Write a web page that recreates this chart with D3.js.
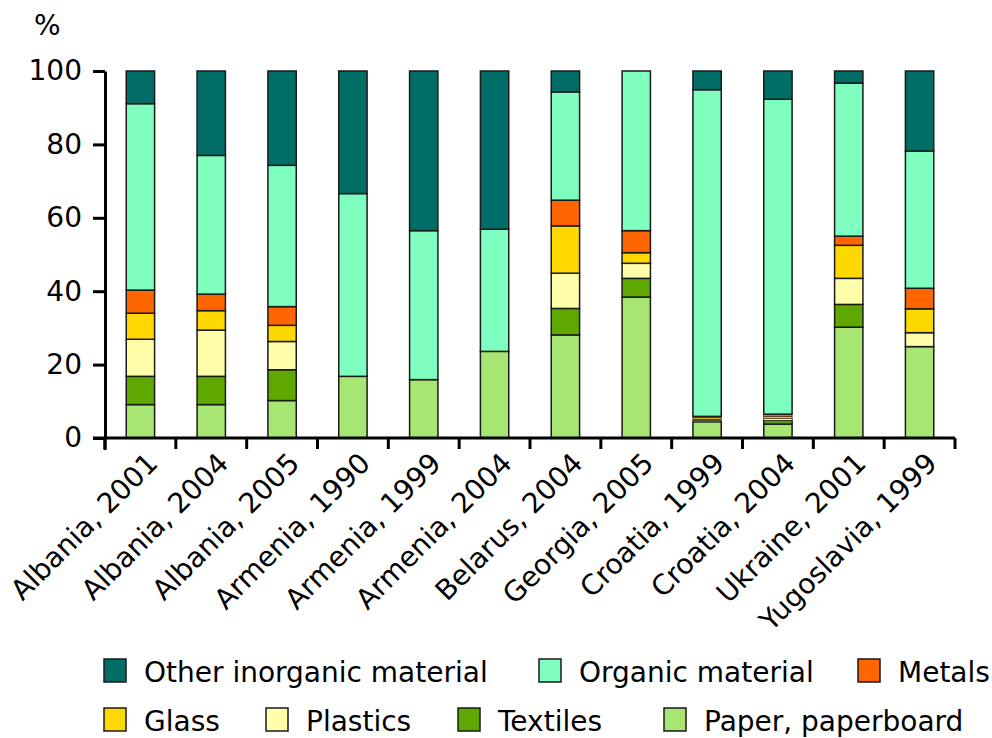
<!DOCTYPE html>
<html>
<head>
<meta charset="utf-8">
<script src="https://cdn.jsdelivr.net/npm/d3@7"></script>
<style>
  html, body { margin: 0; padding: 0; background: #fff; }
  svg { display: block; font-family: "DejaVu Sans", Verdana, sans-serif; }
</style>
</head>
<body>
<svg id="chart" width="992" height="738"></svg>
<script>
// ---- data (bottom-to-top stacking order) ----
const categories = ["Albania, 2001","Albania, 2004","Albania, 2005","Armenia, 1990","Armenia, 1999","Armenia, 2004","Belarus, 2004","Georgia, 2005","Croatia, 1999","Croatia, 2004","Ukraine, 2001","Yugoslavia, 1999"];
const paper    = [9.1, 9.1, 10.2, 16.8, 15.9, 23.6, 28.1, 38.4, 4.4, 3.8, 30.2, 24.9];
const textiles = [7.7, 7.7, 8.4, 0, 0, 0, 7.2, 5.1, 0.4, 1.0, 6.2, 0];
const plastics = [10.1, 12.6, 7.7, 0, 0, 0, 9.6, 4.1, 0.3, 0.5, 7.1, 3.8];
const glass    = [7.1, 5.3, 4.4, 0, 0, 0, 12.9, 2.9, 0.4, 0.5, 9.0, 6.5];
const metals   = [6.3, 4.5, 5.1, 0, 0, 0, 7.0, 6.0, 0.4, 0.7, 2.5, 5.6];
const organic  = [50.8, 37.8, 38.5, 49.8, 40.6, 33.3, 29.5, 43.5, 89.0, 85.8, 41.7, 37.4];
const other    = [8.9, 23.0, 25.7, 33.4, 43.5, 43.1, 5.7, 0, 5.1, 7.7, 3.3, 21.8];
const seriesNames = ["Paper, paperboard","Textiles","Plastics","Glass","Metals","Organic material","Other inorganic material"];
const seriesValues = [paper, textiles, plastics, glass, metals, organic, other];
const yTicks = [0, 20, 40, 60, 80, 100];
const yUnit = "%";

// ---- styles ----
const colors = {
  "Paper, paperboard": "#a8e673",
  "Textiles": "#5fa800",
  "Plastics": "#ffffaa",
  "Glass": "#ffd800",
  "Metals": "#ff6600",
  "Organic material": "#7fffbf",
  "Other inorganic material": "#006e66"
};
const FS = 28;

const svg = d3.select("#chart");
const mLeft = 105, mRight = 955, mTop = 71, mBottom = 438;

const x = d3.scaleBand().domain(categories).range([mLeft, mRight]).paddingInner(0.6).paddingOuter(0.3);
const y = d3.scaleLinear().domain([0, 100]).range([mBottom, mTop]);

// table for stack
const table = categories.map((c, i) => {
  const row = { cat: c };
  seriesNames.forEach((s, j) => row[s] = seriesValues[j][i]);
  return row;
});
const stack = d3.stack().keys(seriesNames)(table);

// bars
svg.append("g").selectAll("g").data(stack).join("g")
  .attr("fill", d => colors[d.key])
  .selectAll("rect")
  .data(d => d.filter(p => p[1] - p[0] > 0))
  .join("rect")
  .attr("x", d => x(d.data.cat))
  .attr("width", x.bandwidth())
  .attr("y", d => y(d[1]))
  .attr("height", d => y(d[0]) - y(d[1]))
  .attr("stroke", "#1a1a1a")
  .attr("stroke-width", d => (y(d[0]) - y(d[1])) < 3 ? 0.6 : 1.5);

// y axis
const yAxis = svg.append("g").attr("transform", `translate(${mLeft},0)`)
  .call(d3.axisLeft(y).tickValues(yTicks).tickSize(12).tickPadding(11).tickSizeOuter(0));
yAxis.select(".domain").attr("stroke", "#000").attr("stroke-width", 3);
yAxis.selectAll(".tick line").attr("stroke", "#000").attr("stroke-width", 3);
yAxis.selectAll("text").attr("font-size", FS).attr("fill", "#000").attr("font-family", "DejaVu Sans, Verdana, sans-serif");
// extend y axis slightly below x axis
svg.append("line").attr("x1", mLeft).attr("x2", mLeft).attr("y1", mBottom).attr("y2", mBottom + 12)
  .attr("stroke", "#000").attr("stroke-width", 3);

// x axis with boundary ticks
const step = x.step();
const boundaries = d3.range(categories.length + 1).map(i => mLeft + i * step);
svg.append("line").attr("x1", mLeft - 12).attr("x2", mRight).attr("y1", mBottom).attr("y2", mBottom)
  .attr("stroke", "#000").attr("stroke-width", 3);
svg.append("g").selectAll("line").data(boundaries).join("line")
  .attr("x1", d => d).attr("x2", d => d).attr("y1", mBottom).attr("y2", mBottom + 11)
  .attr("stroke", "#000").attr("stroke-width", 3);

// x labels
svg.append("g").selectAll("text").data(categories).join("text")
  .attr("transform", d => `translate(${x(d) + x.bandwidth() / 2 + 12},${mBottom + 20}) rotate(-45)`)
  .attr("text-anchor", "end")
  .attr("dy", "0.35em")
  .attr("font-size", FS)
  .attr("fill", "#000")
  .text(d => d);

// unit label
svg.append("text").attr("x", 34).attr("y", 35).attr("font-size", FS).attr("fill", "#000").text(yUnit);

// legend
const legendOrder = ["Other inorganic material","Organic material","Metals","Glass","Plastics","Textiles","Paper, paperboard"];
const legendPos = [[104, 682],[539, 682],[858, 682],[104, 731],[266, 731],[458, 731],[664, 731]];
const lg = svg.append("g").selectAll("g").data(legendOrder).join("g")
  .attr("transform", (d, i) => `translate(${legendPos[i][0]},${legendPos[i][1]})`);
lg.append("rect").attr("x", 0).attr("y", -23).attr("width", 22).attr("height", 23)
  .attr("fill", d => colors[d]).attr("stroke", "#1a1a1a").attr("stroke-width", 1.5);
lg.append("text").attr("x", 40).attr("y", 0).attr("font-size", FS).attr("fill", "#000").text(d => d);
</script>
</body>
</html>
